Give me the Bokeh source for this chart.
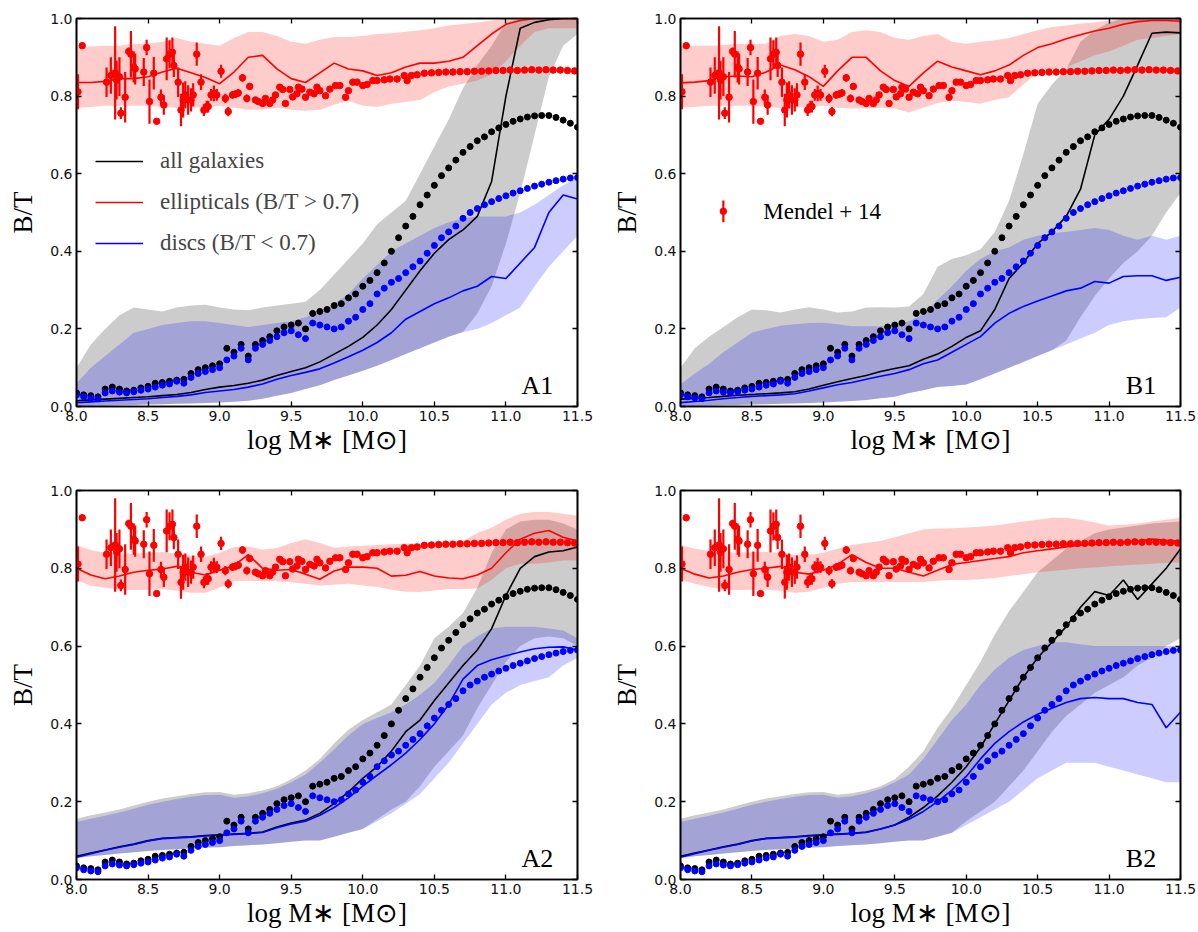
import numpy as np
from bokeh.plotting import figure
from bokeh.layouts import row, column
from bokeh.models import (Range1d, LinearAxis, FixedTicker, NumeralTickFormatter,
                          Label, Legend, LegendItem, ColumnDataSource)
from bokeh.embed import file_html
from bokeh.resources import INLINE

# ---------------- data ----------------
# model grid (log M*)
MX = [8.0, 8.1, 8.2, 8.3, 8.4, 8.5, 8.6, 8.7, 8.8, 8.9,
      9.0, 9.1, 9.2, 9.3, 9.4, 9.5, 9.6, 9.7, 9.8, 9.9,
      10.0, 10.1, 10.2, 10.3, 10.4, 10.5, 10.6, 10.7, 10.8, 10.9,
      11.0, 11.1, 11.2, 11.3, 11.4, 11.5]

# ---- panel A1 ----
a1_all = [0.015, 0.017, 0.019, 0.021, 0.023, 0.025, 0.028, 0.031, 0.036, 0.044,
          0.050, 0.054, 0.060, 0.068, 0.080, 0.090, 0.100, 0.115, 0.135, 0.155,
          0.178, 0.210, 0.250, 0.300, 0.350, 0.395, 0.430, 0.455, 0.490, 0.580,
          0.800, 0.975, 0.990, 0.997, 1.000, 1.000]
a1_disc = [0.010, 0.012, 0.014, 0.016, 0.018, 0.020, 0.023, 0.026, 0.030, 0.036,
           0.040, 0.044, 0.050, 0.058, 0.070, 0.080, 0.088, 0.097, 0.112, 0.128,
           0.145, 0.165, 0.190, 0.225, 0.245, 0.265, 0.280, 0.298, 0.310, 0.335,
           0.330, 0.370, 0.410, 0.500, 0.545, 0.535]
a1_ell = [0.835, 0.835, 0.838, 0.845, 0.845, 0.850, 0.862, 0.872, 0.860, 0.848,
          0.832, 0.862, 0.900, 0.905, 0.870, 0.845, 0.835, 0.860, 0.885, 0.870,
          0.865, 0.853, 0.860, 0.875, 0.885, 0.885, 0.890, 0.900, 0.930, 0.960,
          0.985, 0.995, 1.000, 1.000, 1.000, 1.000]
a1_ell_hi = [0.925, 0.928, 0.930, 0.930, 0.935, 0.935, 0.940, 0.950, 0.940, 0.935,
             0.930, 0.950, 0.965, 0.965, 0.955, 0.940, 0.935, 0.945, 0.952, 0.952,
             0.955, 0.960, 0.962, 0.966, 0.970, 0.975, 0.982, 0.986, 0.990, 0.995,
             1.000, 1.000, 1.000, 1.000, 1.000, 1.000]
a1_ell_lo = [0.770, 0.772, 0.775, 0.775, 0.775, 0.775, 0.772, 0.770, 0.770, 0.772,
             0.775, 0.770, 0.765, 0.765, 0.770, 0.765, 0.762, 0.765, 0.778, 0.788,
             0.775, 0.772, 0.780, 0.785, 0.790, 0.810, 0.825, 0.832, 0.840, 0.855,
             0.890, 0.930, 0.965, 0.975, 0.975, 0.975]
a1_all_hi = [0.100, 0.160, 0.200, 0.235, 0.255, 0.250, 0.245, 0.255, 0.260, 0.262,
             0.255, 0.250, 0.248, 0.255, 0.260, 0.265, 0.270, 0.300, 0.340, 0.380,
             0.420, 0.470, 0.500, 0.530, 0.600, 0.670, 0.740, 0.820, 0.880, 0.930,
             0.990, 1.000, 1.000, 1.000, 1.000, 1.000]
a1_all_lo = [0.000, 0.001, 0.002, 0.003, 0.004, 0.005, 0.006, 0.007, 0.008, 0.009,
             0.010, 0.012, 0.015, 0.020, 0.028, 0.035, 0.045, 0.055, 0.068, 0.080,
             0.092, 0.105, 0.120, 0.135, 0.150, 0.165, 0.180, 0.192, 0.240, 0.310,
             0.420, 0.550, 0.700, 0.850, 0.930, 0.960]
a1_disc_hi = [0.060, 0.100, 0.130, 0.160, 0.190, 0.200, 0.210, 0.215, 0.220, 0.220,
              0.215, 0.210, 0.205, 0.210, 0.215, 0.220, 0.230, 0.245, 0.265, 0.290,
              0.330, 0.365, 0.400, 0.420, 0.440, 0.460, 0.475, 0.485, 0.490, 0.490,
              0.490, 0.500, 0.520, 0.545, 0.570, 0.590]
a1_disc_lo = [0.000, 0.001, 0.002, 0.003, 0.004, 0.005, 0.006, 0.007, 0.008, 0.009,
              0.010, 0.012, 0.015, 0.020, 0.028, 0.035, 0.045, 0.055, 0.068, 0.080,
              0.092, 0.105, 0.120, 0.135, 0.150, 0.165, 0.180, 0.192, 0.200, 0.215,
              0.235, 0.255, 0.310, 0.360, 0.400, 0.440]

# ---- panel B1 ----
b1_all = [0.019, 0.021, 0.023, 0.026, 0.029, 0.031, 0.033, 0.035, 0.038, 0.045,
          0.055, 0.064, 0.072, 0.080, 0.090, 0.098, 0.105, 0.122, 0.135, 0.155,
          0.178, 0.195, 0.250, 0.330, 0.370, 0.420, 0.450, 0.490, 0.560, 0.700,
          0.740, 0.800, 0.880, 0.962, 0.965, 0.963]
b1_disc = [0.010, 0.013, 0.016, 0.020, 0.023, 0.026, 0.028, 0.030, 0.033, 0.040,
           0.048, 0.056, 0.062, 0.070, 0.078, 0.085, 0.095, 0.110, 0.120, 0.140,
           0.160, 0.180, 0.215, 0.240, 0.258, 0.272, 0.285, 0.298, 0.305, 0.322,
           0.318, 0.335, 0.337, 0.337, 0.325, 0.333]
b1_ell = [0.834, 0.836, 0.840, 0.850, 0.852, 0.850, 0.862, 0.880, 0.868, 0.850,
          0.825, 0.865, 0.900, 0.900, 0.865, 0.840, 0.825, 0.860, 0.890, 0.875,
          0.865, 0.855, 0.865, 0.880, 0.905, 0.925, 0.935, 0.948, 0.958, 0.968,
          0.975, 0.985, 0.992, 0.995, 0.995, 0.993]
b1_ell_hi = [0.930, 0.930, 0.930, 0.932, 0.935, 0.935, 0.935, 0.955, 0.960, 0.955,
             0.940, 0.945, 0.965, 0.970, 0.965, 0.950, 0.945, 0.955, 0.960, 0.940,
             0.935, 0.940, 0.944, 0.950, 0.960, 0.970, 0.978, 0.982, 0.987, 0.990,
             0.995, 1.000, 1.000, 1.000, 1.000, 1.000]
b1_ell_lo = [0.770, 0.772, 0.775, 0.775, 0.775, 0.775, 0.772, 0.770, 0.770, 0.772,
             0.775, 0.770, 0.768, 0.768, 0.770, 0.768, 0.758, 0.770, 0.782, 0.788,
             0.785, 0.780, 0.790, 0.797, 0.830, 0.860, 0.870, 0.874, 0.890, 0.905,
             0.915, 0.930, 0.945, 0.950, 0.955, 0.960]
b1_all_hi = [0.100, 0.150, 0.180, 0.205, 0.230, 0.250, 0.248, 0.242, 0.250, 0.256,
             0.250, 0.242, 0.245, 0.255, 0.256, 0.255, 0.258, 0.290, 0.360, 0.380,
             0.390, 0.405, 0.450, 0.530, 0.650, 0.780, 0.830, 0.870, 0.940, 0.970,
             0.990, 1.000, 1.000, 1.000, 1.000, 1.000]
b1_all_lo = [0.000, 0.001, 0.002, 0.003, 0.004, 0.005, 0.006, 0.007, 0.008, 0.009,
             0.010, 0.012, 0.014, 0.017, 0.021, 0.025, 0.035, 0.042, 0.050, 0.053,
             0.057, 0.070, 0.085, 0.100, 0.115, 0.130, 0.145, 0.170, 0.230, 0.285,
             0.330, 0.370, 0.400, 0.440, 0.500, 0.550]
b1_disc_hi = [0.057, 0.085, 0.110, 0.140, 0.165, 0.190, 0.200, 0.208, 0.212, 0.215,
              0.216, 0.212, 0.207, 0.207, 0.207, 0.210, 0.220, 0.238, 0.275, 0.310,
              0.350, 0.380, 0.400, 0.410, 0.430, 0.440, 0.447, 0.450, 0.455, 0.460,
              0.455, 0.440, 0.430, 0.440, 0.430, 0.440]
b1_disc_lo = [0.000, 0.001, 0.002, 0.003, 0.004, 0.005, 0.006, 0.007, 0.008, 0.009,
              0.010, 0.012, 0.014, 0.017, 0.021, 0.025, 0.035, 0.042, 0.050, 0.053,
              0.057, 0.070, 0.085, 0.100, 0.115, 0.130, 0.145, 0.160, 0.175, 0.190,
              0.210, 0.220, 0.225, 0.228, 0.230, 0.255]

# ---- panel A2 ----
a2_all = [0.060, 0.068, 0.076, 0.084, 0.091, 0.100, 0.106, 0.108, 0.110, 0.113,
          0.115, 0.117, 0.119, 0.122, 0.135, 0.145, 0.153, 0.170, 0.195, 0.225,
          0.260, 0.290, 0.330, 0.380, 0.410, 0.460, 0.505, 0.550, 0.590, 0.645,
          0.730, 0.800, 0.830, 0.842, 0.845, 0.855]
a2_disc = [0.057, 0.066, 0.075, 0.083, 0.090, 0.099, 0.105, 0.107, 0.109, 0.112,
           0.114, 0.116, 0.118, 0.121, 0.133, 0.143, 0.150, 0.165, 0.185, 0.210,
           0.240, 0.268, 0.295, 0.325, 0.360, 0.400, 0.450, 0.515, 0.550, 0.565,
           0.575, 0.585, 0.593, 0.597, 0.598, 0.590]
a2_ell = [0.800, 0.783, 0.773, 0.780, 0.790, 0.795, 0.798, 0.805, 0.790, 0.783,
          0.795, 0.807, 0.835, 0.800, 0.795, 0.797, 0.785, 0.772, 0.793, 0.803,
          0.803, 0.800, 0.780, 0.782, 0.792, 0.780, 0.775, 0.773, 0.783, 0.800,
          0.840, 0.875, 0.890, 0.897, 0.880, 0.870]
a2_ell_hi = [0.859, 0.847, 0.840, 0.838, 0.838, 0.840, 0.842, 0.838, 0.832, 0.829,
             0.840, 0.855, 0.856, 0.848, 0.852, 0.865, 0.875, 0.865, 0.853, 0.856,
             0.858, 0.860, 0.862, 0.863, 0.863, 0.864, 0.868, 0.871, 0.890, 0.905,
             0.925, 0.940, 0.945, 0.945, 0.940, 0.935]
a2_ell_lo = [0.769, 0.755, 0.750, 0.745, 0.744, 0.745, 0.747, 0.742, 0.737, 0.737,
             0.750, 0.767, 0.768, 0.767, 0.767, 0.764, 0.760, 0.756, 0.758, 0.760,
             0.756, 0.752, 0.745, 0.740, 0.739, 0.743, 0.747, 0.747, 0.748, 0.770,
             0.800, 0.812, 0.812, 0.815, 0.820, 0.820]
a2_all_hi = [0.156, 0.165, 0.172, 0.180, 0.190, 0.200, 0.208, 0.214, 0.220, 0.224,
             0.225, 0.218, 0.222, 0.229, 0.240, 0.258, 0.280, 0.310, 0.350, 0.385,
             0.410, 0.430, 0.450, 0.500, 0.550, 0.620, 0.650, 0.685, 0.750, 0.840,
             0.900, 0.920, 0.925, 0.925, 0.915, 0.900]
a2_all_lo = [0.055, 0.060, 0.063, 0.067, 0.070, 0.073, 0.076, 0.078, 0.080, 0.082,
             0.083, 0.086, 0.088, 0.090, 0.093, 0.097, 0.100, 0.100, 0.110, 0.120,
             0.130, 0.155, 0.180, 0.200, 0.240, 0.290, 0.330, 0.370, 0.440, 0.500,
             0.560, 0.600, 0.620, 0.625, 0.620, 0.600]
a2_disc_hi = [0.148, 0.156, 0.164, 0.172, 0.182, 0.192, 0.200, 0.207, 0.213, 0.217,
              0.218, 0.210, 0.214, 0.222, 0.233, 0.250, 0.270, 0.300, 0.335, 0.370,
              0.400, 0.415, 0.430, 0.450, 0.475, 0.505, 0.550, 0.600, 0.625, 0.645,
              0.650, 0.650, 0.650, 0.645, 0.640, 0.620]
a2_disc_lo = [0.055, 0.060, 0.063, 0.067, 0.070, 0.073, 0.076, 0.078, 0.080, 0.082,
              0.083, 0.086, 0.088, 0.090, 0.093, 0.097, 0.100, 0.100, 0.110, 0.120,
              0.130, 0.150, 0.170, 0.195, 0.220, 0.260, 0.300, 0.350, 0.400, 0.450,
              0.480, 0.500, 0.510, 0.520, 0.550, 0.570]

# ---- panel B2 ----
b2_all = [0.060, 0.068, 0.076, 0.084, 0.091, 0.100, 0.106, 0.108, 0.110, 0.113,
          0.115, 0.117, 0.119, 0.122, 0.130, 0.140, 0.160, 0.185, 0.215, 0.250,
          0.290, 0.340, 0.400, 0.460, 0.520, 0.570, 0.610, 0.650, 0.700, 0.740,
          0.730, 0.770, 0.720, 0.760, 0.800, 0.850]
b2_disc = [0.057, 0.066, 0.075, 0.083, 0.090, 0.099, 0.105, 0.107, 0.109, 0.112,
           0.114, 0.116, 0.118, 0.121, 0.130, 0.140, 0.155, 0.175, 0.200, 0.230,
           0.265, 0.310, 0.350, 0.380, 0.405, 0.425, 0.440, 0.455, 0.465, 0.468,
           0.465, 0.465, 0.455, 0.450, 0.390, 0.430]
b2_ell = [0.800, 0.785, 0.775, 0.780, 0.790, 0.797, 0.800, 0.805, 0.790, 0.785,
          0.795, 0.810, 0.835, 0.815, 0.800, 0.800, 0.790, 0.780, 0.795, 0.810,
          0.815, 0.820, 0.825, 0.830, 0.840, 0.845, 0.850, 0.855, 0.860, 0.862,
          0.865, 0.868, 0.870, 0.875, 0.872, 0.870]
b2_ell_hi = [0.860, 0.850, 0.845, 0.842, 0.840, 0.842, 0.842, 0.840, 0.835, 0.835,
             0.840, 0.850, 0.860, 0.865, 0.870, 0.880, 0.890, 0.900, 0.902, 0.903,
             0.905, 0.907, 0.910, 0.915, 0.920, 0.925, 0.930, 0.930, 0.925, 0.918,
             0.910, 0.912, 0.915, 0.920, 0.925, 0.930]
b2_ell_lo = [0.770, 0.760, 0.752, 0.745, 0.744, 0.745, 0.745, 0.742, 0.737, 0.740,
             0.750, 0.760, 0.765, 0.765, 0.765, 0.765, 0.765, 0.765, 0.768, 0.770,
             0.770, 0.772, 0.775, 0.780, 0.785, 0.790, 0.793, 0.796, 0.800, 0.802,
             0.805, 0.807, 0.810, 0.812, 0.814, 0.815]
b2_all_hi = [0.156, 0.165, 0.172, 0.180, 0.190, 0.200, 0.208, 0.214, 0.220, 0.224,
             0.225, 0.218, 0.222, 0.229, 0.240, 0.258, 0.290, 0.330, 0.390, 0.440,
             0.500, 0.560, 0.630, 0.690, 0.740, 0.790, 0.820, 0.850, 0.870, 0.890,
             0.900, 0.905, 0.910, 0.915, 0.918, 0.920]
b2_all_lo = [0.055, 0.060, 0.063, 0.067, 0.070, 0.073, 0.076, 0.078, 0.080, 0.082,
             0.083, 0.086, 0.088, 0.090, 0.093, 0.097, 0.100, 0.100, 0.110, 0.120,
             0.150, 0.175, 0.200, 0.240, 0.280, 0.330, 0.380, 0.420, 0.450, 0.480,
             0.500, 0.520, 0.550, 0.570, 0.600, 0.620]
b2_disc_hi = [0.148, 0.156, 0.164, 0.172, 0.182, 0.192, 0.200, 0.207, 0.213, 0.217,
              0.218, 0.210, 0.214, 0.222, 0.233, 0.250, 0.270, 0.310, 0.360, 0.410,
              0.450, 0.500, 0.540, 0.570, 0.590, 0.600, 0.610, 0.610, 0.605, 0.600,
              0.600, 0.600, 0.600, 0.600, 0.600, 0.600]
b2_disc_lo = [0.055, 0.060, 0.063, 0.067, 0.070, 0.073, 0.076, 0.078, 0.080, 0.082,
              0.083, 0.086, 0.088, 0.090, 0.093, 0.097, 0.100, 0.100, 0.110, 0.120,
              0.140, 0.160, 0.180, 0.200, 0.230, 0.260, 0.280, 0.300, 0.300, 0.300,
              0.290, 0.280, 0.270, 0.260, 0.250, 0.250]

# ---- observations (same in every panel) ----
OBS_X = [8.00, 8.05, 8.10, 8.15, 8.20, 8.25, 8.30, 8.35, 8.40, 8.45,
         8.50, 8.55, 8.60, 8.65, 8.70, 8.75, 8.80, 8.85, 8.90, 8.95,
         9.00, 9.05, 9.10, 9.15, 9.20, 9.25, 9.30, 9.35, 9.40, 9.45,
         9.50, 9.55, 9.60, 9.65, 9.70, 9.75, 9.80, 9.85, 9.90, 9.95,
         10.00, 10.05, 10.10, 10.15, 10.20, 10.25, 10.30, 10.35, 10.40, 10.45,
         10.50, 10.55, 10.60, 10.65, 10.70, 10.75, 10.80, 10.85, 10.90, 10.95,
         11.00, 11.05, 11.10, 11.15, 11.20, 11.25, 11.30, 11.35, 11.40, 11.45,
         11.50]
obs_all = [0.035, 0.030, 0.028, 0.025, 0.045, 0.050, 0.045, 0.040, 0.042, 0.048,
           0.052, 0.060, 0.062, 0.065, 0.068, 0.070, 0.085, 0.095, 0.100, 0.105,
           0.110, 0.150, 0.140, 0.160, 0.130, 0.160, 0.170, 0.180, 0.195, 0.205,
           0.210, 0.215, 0.200, 0.240, 0.245, 0.250, 0.260, 0.265, 0.280, 0.290,
           0.310, 0.325, 0.345, 0.370, 0.400, 0.435, 0.465, 0.490, 0.520, 0.545,
           0.570, 0.595, 0.615, 0.635, 0.655, 0.670, 0.685, 0.695, 0.708, 0.718,
           0.727, 0.735, 0.741, 0.746, 0.749, 0.750, 0.750, 0.745, 0.738, 0.730,
           0.720]
obs_disc = [0.030, 0.025, 0.022, 0.020, 0.035, 0.040, 0.037, 0.035, 0.038, 0.042,
            0.045, 0.050, 0.055, 0.058, 0.065, 0.060, 0.075, 0.085, 0.090, 0.095,
            0.100, 0.120, 0.130, 0.150, 0.120, 0.150, 0.160, 0.170, 0.180, 0.190,
            0.195, 0.185, 0.175, 0.215, 0.210, 0.205, 0.200, 0.205, 0.220, 0.230,
            0.250, 0.265, 0.290, 0.305, 0.320, 0.330, 0.345, 0.360, 0.375, 0.395,
            0.415, 0.435, 0.450, 0.465, 0.485, 0.500, 0.510, 0.520, 0.528, 0.536,
            0.543, 0.550, 0.556, 0.562, 0.568, 0.573, 0.578, 0.582, 0.586, 0.589,
            0.590]

# Mendel+14 ellipticals with error bars
red_obs_x = [8.01, 8.04, 8.21, 8.24, 8.27, 8.28, 8.30, 8.31, 8.34, 8.365,
             8.38, 8.40, 8.41, 8.47, 8.49, 8.51, 8.54, 8.56, 8.59, 8.61,
             8.63, 8.65, 8.67, 8.68, 8.71, 8.73, 8.745, 8.76, 8.78, 8.80,
             8.815, 8.84, 8.87, 8.89, 8.91, 8.92, 8.94, 8.96, 8.98, 9.01,
             9.04, 9.06, 9.09, 9.11, 9.13, 9.16, 9.19, 9.21, 9.25, 9.27,
             9.30, 9.32, 9.35, 9.37, 9.39, 9.42, 9.44, 9.46, 9.49, 9.51,
             9.54, 9.55, 9.575, 9.60, 9.63, 9.66, 9.68, 9.70, 9.74, 9.77,
             9.81, 9.84, 9.88, 9.90, 9.93, 9.96, 10.00, 10.03, 10.07, 10.10,
             10.15, 10.19, 10.24, 10.29, 10.31, 10.34, 10.38, 10.43, 10.48, 10.53,
             10.58, 10.63, 10.68, 10.73, 10.78, 10.83, 10.88, 10.93, 10.98, 11.03,
             11.08, 11.13, 11.18, 11.23, 11.28, 11.33, 11.38, 11.43, 11.48]
red_obs_y = [0.811, 0.930, 0.836, 0.853, 0.860, 0.841, 0.850, 0.756, 0.797, 0.915,
             0.908, 0.875, 0.870, 0.862, 0.925, 0.786, 0.859, 0.735, 0.797, 0.777,
             0.896, 0.908, 0.913, 0.879, 0.836, 0.764, 0.790, 0.803, 0.790, 0.790,
             0.803, 0.908, 0.836, 0.764, 0.773, 0.773, 0.803, 0.807, 0.803, 0.864,
             0.794, 0.760, 0.803, 0.805, 0.808, 0.847, 0.794, 0.825, 0.790, 0.786,
             0.781, 0.794, 0.781, 0.790, 0.803, 0.823, 0.817, 0.781, 0.817, 0.798,
             0.806, 0.823, 0.818, 0.797, 0.810, 0.806, 0.823, 0.814, 0.801, 0.818,
             0.827, 0.827, 0.797, 0.814, 0.836, 0.836, 0.827, 0.830, 0.840, 0.840,
             0.842, 0.844, 0.844, 0.853, 0.840, 0.853, 0.855, 0.859, 0.860, 0.861,
             0.862, 0.862, 0.863, 0.863, 0.864, 0.864, 0.865, 0.866, 0.866, 0.867,
             0.866, 0.867, 0.868, 0.867, 0.868, 0.867, 0.867, 0.866, 0.865]
red_obs_err = [0.045, 0.000, 0.038, 0.047, 0.120, 0.050, 0.050, 0.015, 0.065, 0.010,
               0.060, 0.040, 0.040, 0.036, 0.020, 0.057, 0.042, 0.000, 0.020, 0.025,
               0.055, 0.036, 0.038, 0.030, 0.038, 0.042, 0.045, 0.035, 0.038, 0.030,
               0.030, 0.030, 0.020, 0.015, 0.015, 0.015, 0.015, 0.020, 0.015, 0.017,
               0.012, 0.012, 0.010, 0.010, 0.010, 0.010, 0.010, 0.008, 0.006, 0.006,
               0.006, 0.006, 0.006, 0.006, 0.006, 0.006, 0.006, 0.006, 0.006, 0.005,
               0.005, 0.005, 0.005, 0.005, 0.005, 0.005, 0.005, 0.005, 0.005, 0.005,
               0.005, 0.005, 0.005, 0.005, 0.005, 0.005, 0.004, 0.004, 0.004, 0.004,
               0.004, 0.004, 0.004, 0.004, 0.004, 0.004, 0.004, 0.004, 0.004, 0.004,
               0.004, 0.004, 0.004, 0.004, 0.004, 0.004, 0.004, 0.004, 0.004, 0.004,
               0.004, 0.004, 0.004, 0.004, 0.004, 0.004, 0.004, 0.004, 0.004]

X_TICKS = [8.0, 8.5, 9.0, 9.5, 10.0, 10.5, 11.0, 11.5]
Y_TICKS = [0.0, 0.2, 0.4, 0.6, 0.8, 1.0]
LEGEND_LABELS = ["all galaxies", "ellipticals (B/T > 0.7)", "discs (B/T < 0.7)"]

SERIF = "Liberation Serif"
SANS = "DejaVu Sans"


def style_axis(ax, ticks, show_labels=True):
    ax.ticker = FixedTicker(ticks=ticks)
    ax.formatter = NumeralTickFormatter(format="0.0")
    ax.major_tick_in = 5
    ax.major_tick_out = 0
    ax.minor_tick_line_color = None
    ax.axis_line_width = 1.6
    ax.axis_line_color = "black"
    ax.major_tick_line_width = 1.3
    ax.major_tick_line_color = "black"
    if show_labels:
        ax.major_label_text_font = SANS
        ax.major_label_text_font_size = "14px"
        ax.major_label_text_color = "#111111"
        ax.major_label_standoff = 4
    else:
        ax.major_label_text_font_size = "1px"
        ax.major_label_text_color = None
        ax.major_label_standoff = 0


def make_panel(tag, all_m, all_lo, all_hi, ell_m, ell_lo, ell_hi,
               disc_m, disc_lo, disc_hi, bl, br, bt, bb, fw, fh,
               legend=False, mendel=False):
    p = figure(frame_width=fw, frame_height=fh,
               x_range=Range1d(8.0, 11.5), y_range=Range1d(0.0, 1.0),
               output_backend="svg", toolbar_location=None,
               min_border_left=bl, min_border_right=br,
               min_border_top=bt, min_border_bottom=bb)
    p.grid.visible = False
    p.outline_line_color = "black"
    p.outline_line_width = 1.6
    p.background_fill_color = "white"
    p.border_fill_color = "white"

    src = ColumnDataSource(dict(x=MX, all_m=all_m, all_lo=all_lo, all_hi=all_hi,
                                ell_m=ell_m, ell_lo=ell_lo, ell_hi=ell_hi,
                                disc_m=disc_m, disc_lo=disc_lo, disc_hi=disc_hi))
    # shaded 16-84 percentile bands
    p.varea(x="x", y1="all_lo", y2="all_hi", source=src, fill_color="black", fill_alpha=0.2)
    p.varea(x="x", y1="ell_lo", y2="ell_hi", source=src, fill_color="red", fill_alpha=0.2)
    p.varea(x="x", y1="disc_lo", y2="disc_hi", source=src, fill_color="blue", fill_alpha=0.2)
    # model medians
    r_all = p.line(x="x", y="all_m", source=src, line_color="black", line_width=1.6)
    r_ell = p.line(x="x", y="ell_m", source=src, line_color="red", line_width=1.6)
    r_disc = p.line(x="x", y="disc_m", source=src, line_color="blue", line_width=1.6)

    # observations
    osrc = ColumnDataSource(dict(x=OBS_X, a=obs_all, d=obs_disc))
    p.scatter(x="x", y="a", source=osrc, size=6, color="black")
    p.scatter(x="x", y="d", source=osrc, size=6, color="blue")
    ry = np.array(red_obs_y)
    re = np.array(red_obs_err)
    rsrc = ColumnDataSource(dict(x=red_obs_x, y=red_obs_y, lo=ry - re, hi=ry + re))
    p.segment(x0="x", y0="lo", x1="x", y1="hi", source=rsrc, line_color="red", line_width=2.2)
    p.scatter(x="x", y="y", source=rsrc, size=6.5, color="red")

    # axes
    style_axis(p.xaxis[0], X_TICKS)
    style_axis(p.yaxis[0], Y_TICKS)
    p.xaxis[0].axis_label = "log M\u2217 [M\u2299]"
    p.yaxis[0].axis_label = "B/T"
    for ax in (p.xaxis[0], p.yaxis[0]):
        ax.axis_label_text_font = SERIF
        ax.axis_label_text_font_style = "normal"
        ax.axis_label_text_font_size = "27px"
        ax.axis_label_text_color = "black"
    p.xaxis[0].axis_label_standoff = 1
    p.yaxis[0].axis_label_standoff = 9

    top = LinearAxis()
    right = LinearAxis()
    style_axis(top, X_TICKS, show_labels=False)
    style_axis(right, Y_TICKS, show_labels=False)
    p.add_layout(top, "above")
    p.add_layout(right, "right")

    p.add_layout(Label(x=11.33, y=0.055, text=tag, text_align="right",
                       text_baseline="alphabetic", text_font=SERIF,
                       text_font_size="26px", text_color="black"))

    if legend:
        lg = Legend(items=[LegendItem(label=LEGEND_LABELS[0], renderers=[r_all]),
                           LegendItem(label=LEGEND_LABELS[1], renderers=[r_ell]),
                           LegendItem(label=LEGEND_LABELS[2], renderers=[r_disc])],
                    location=(19, 150))
        lg.border_line_color = None
        lg.background_fill_alpha = 0
        lg.label_text_font = SERIF
        lg.label_text_font_size = "23px"
        lg.glyph_width = 48
        lg.glyph_height = 20
        lg.label_height = 20
        lg.spacing = 15
        lg.padding = 0
        lg.margin = 0
        lg.label_standoff = 17
        p.add_layout(lg)

    if mendel:
        ksrc = ColumnDataSource(dict(x=[8.30], y=[0.503], lo=[0.475], hi=[0.531]))
        p.segment(x0="x", y0="lo", x1="x", y1="hi", source=ksrc, line_color="red", line_width=2.2)
        p.scatter(x="x", y="y", source=ksrc, size=6.5, color="red")
        p.add_layout(Label(x=8.58, y=0.503, text="Mendel + 14", text_align="left",
                           text_baseline="middle", text_font=SERIF,
                           text_font_size="23px", text_color="black"))
    return p


pA1 = make_panel("A1", a1_all, a1_all_lo, a1_all_hi, a1_ell, a1_ell_lo, a1_ell_hi,
                 a1_disc, a1_disc_lo, a1_disc_hi, 76, 23, 18, 64, 501, 388, legend=True)
pB1 = make_panel("B1", b1_all, b1_all_lo, b1_all_hi, b1_ell, b1_ell_lo, b1_ell_hi,
                 b1_disc, b1_disc_lo, b1_disc_hi, 80, 18, 18, 64, 500, 388, mendel=True)
pA2 = make_panel("A2", a2_all, a2_all_lo, a2_all_hi, a2_ell, a2_ell_lo, a2_ell_hi,
                 a2_disc, a2_disc_lo, a2_disc_hi, 76, 23, 20, 53, 501, 389)
pB2 = make_panel("B2", b2_all, b2_all_lo, b2_all_hi, b2_ell, b2_ell_lo, b2_ell_hi,
                 b2_disc, b2_disc_lo, b2_disc_hi, 80, 18, 20, 53, 500, 389)

layout = column(row(pA1, pB1), row(pA2, pB2))

with open("out.html", "w") as f:
    f.write(file_html(layout, INLINE))
